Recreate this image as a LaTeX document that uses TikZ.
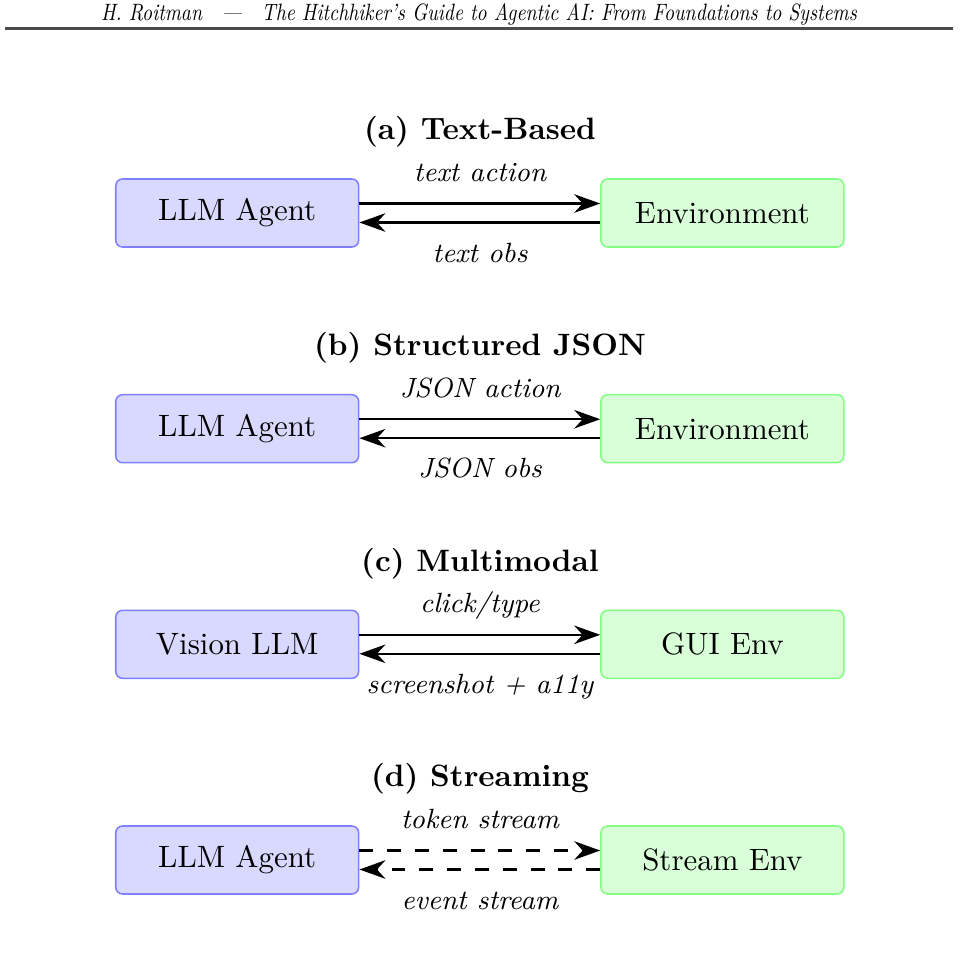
\documentclass[tikz,border=0pt]{standalone}
\usetikzlibrary{arrows.meta}
\begin{document}
\begin{tikzpicture}[x=0.3236pt,y=-0.3236pt,
  agentbox/.style={draw=blue!50, fill=blue!15, rounded corners=2.2pt,
    minimum width=78.6pt, minimum height=22pt, inner sep=0pt, line width=0.5pt},
  envbox/.style={draw=green!50, fill=green!15, rounded corners=2.2pt,
    minimum width=78.6pt, minimum height=22pt, inner sep=0pt, line width=0.5pt},
  paneltitle/.style={font=\bfseries, inner sep=0pt},
  lbl/.style={font=\small\itshape, anchor=base, inner sep=0pt},
  flow/.style={line width=0.8pt, -{Stealth[length=8.4pt,width=6pt]}},
  streamflow/.style={flow, dash pattern=on 4.5pt off 4.5pt}]
\path[use as bounding box] (0,0) rectangle (959,968);

% header
\node[anchor=base, inner sep=0pt] (hdr) at (479,20.5)
  {\scalebox{1}[1.2]{\resizebox{244.6pt}{!}{\itshape H. Roitman\quad---\quad The Hitchhiker's Guide to Agentic AI: From Foundations to Systems}}};
\coordinate (rl) at (5,28.5);
\coordinate (rr) at (953,28.5);
\draw[line width=0.7pt, black!70] (rl) -- (rr);

% (a)
\node[paneltitle] (ta) at (480,132) {(a) Text-Based};
\node[agentbox] (a1) at (237.2,213) {LLM Agent};
\node[envbox] (a2) at (722.4,213) {Environment};
\draw[flow] ([yshift=3.07pt]a1.east) -- ([yshift=3.07pt]a2.west);
\draw[flow] ([yshift=-3.07pt]a2.west) -- ([yshift=-3.07pt]a1.east);
\node[lbl] (la1) at (480,181.5) {text action};
\node[lbl] (la2) at (480,262) {text obs};

% (b)
\node[paneltitle] (tb) at (480,348) {(b) Structured JSON};
\node[agentbox] (b1) at (237.2,428.7) {LLM Agent};
\node[envbox] (b2) at (722.4,428.7) {Environment};
\draw[flow] ([yshift=3.07pt]b1.east) -- ([yshift=3.07pt]b2.west);
\draw[flow] ([yshift=-3.07pt]b2.west) -- ([yshift=-3.07pt]b1.east);
\node[lbl] (lb1) at (480,397.2) {JSON action};
\node[lbl] (lb2) at (480,477.7) {JSON obs};

% (c)
\node[paneltitle] (tc) at (480,563.3) {(c) Multimodal};
\node[agentbox] (c1) at (237.2,644.3) {Vision LLM};
\node[envbox] (c2) at (722.4,644.3) {GUI Env};
\draw[flow] ([yshift=3.07pt]c1.east) -- ([yshift=3.07pt]c2.west);
\draw[flow] ([yshift=-3.07pt]c2.west) -- ([yshift=-3.07pt]c1.east);
\node[lbl] (lc1) at (480,612.8) {click/type};
\node[lbl] (lc2) at (480,693.3) {screenshot + a11y};

% (d)
\node[paneltitle] (td) at (480,779) {(d) Streaming};
\node[agentbox] (d1) at (237.2,860) {LLM Agent};
\node[envbox] (d2) at (722.4,860) {Stream Env};
\draw[streamflow] ([yshift=3.07pt]d1.east) -- ([yshift=3.07pt]d2.west);
\draw[streamflow] ([yshift=-3.07pt]d2.west) -- ([yshift=-3.07pt]d1.east);
\node[lbl] (ld1) at (480,828.5) {token stream};
\node[lbl] (ld2) at (480,909) {event stream};
\end{tikzpicture}
\end{document}
